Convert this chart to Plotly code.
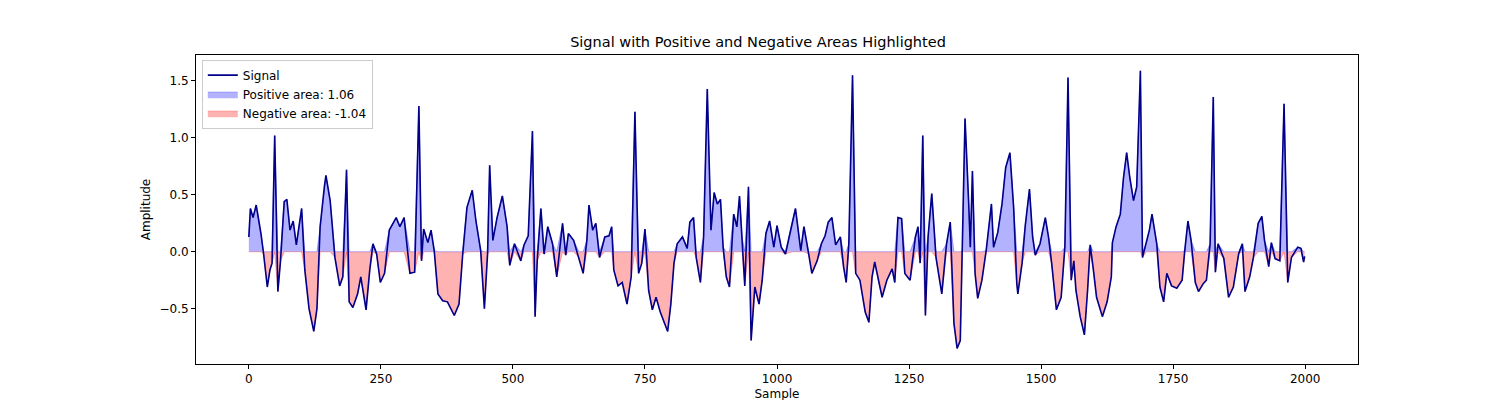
import plotly.graph_objects as go

samples = [0, 3, 8, 14, 19, 23, 28, 35, 40, 44, 49, 55, 60, 67, 72, 78, 84, 90, 100, 106, 114, 123, 129, 135,
           143, 146, 154, 163, 172, 178, 185, 190, 197, 206, 212, 222, 229, 235, 242, 249, 257, 266, 279, 286,
           294, 305, 314, 322, 327, 331, 339, 345, 351, 358, 367, 376, 389, 398, 405, 413, 423, 430, 439, 446,
           452, 456, 462, 470, 480, 489, 494, 503, 515,
           521, 529, 537, 542, 546, 553, 559, 566, 575, 583, 594, 600, 605, 615, 625, 633, 640, 644, 651, 657,
           664, 674, 682, 687, 691, 699, 707, 716, 724, 731, 738, 744, 750, 757, 764, 771, 779, 793, 799, 805,
           811, 821, 830, 835, 842, 847, 855, 861, 868, 875, 881, 887, 893, 898, 904, 910, 918, 924, 929, 934,
           939, 946, 951, 958, 966, 972, 979, 986, 994, 1000, 1008, 1016,
           1029, 1035, 1045, 1051, 1060, 1066, 1076, 1084, 1091, 1097, 1104, 1111, 1120, 1126, 1131, 1136, 1143,
           1149, 1157, 1167, 1174, 1180, 1185, 1193, 1199, 1208, 1218, 1223, 1229, 1236, 1242, 1252, 1262, 1267,
           1271, 1276, 1281, 1286, 1293, 1301, 1312, 1321, 1328, 1335, 1341, 1347, 1351, 1356, 1363, 1366, 1370,
           1375, 1380, 1388, 1396, 1401, 1406, 1410, 1418, 1426, 1433, 1441, 1448, 1454, 1456, 1464, 1470, 1478,
           1484, 1489, 1498, 1508, 1514, 1520, 1529,
           1538, 1545, 1551, 1557, 1562, 1566, 1574, 1582, 1588, 1593, 1599, 1605, 1616, 1625, 1633, 1635, 1642,
           1650, 1656, 1662, 1668, 1675, 1681, 1688, 1692, 1699, 1705, 1710, 1719, 1725, 1732, 1738, 1747, 1757,
           1767, 1772, 1778, 1784, 1792, 1798, 1807, 1813, 1820, 1826, 1830, 1835, 1846, 1855, 1864, 1874, 1881,
           1886, 1895, 1902, 1911, 1918, 1923, 1931, 1936, 1943, 1952, 1960, 1967, 1974, 1986, 1992, 1997, 1999]

signal = [0.13, 0.38, 0.30, 0.41, 0.27, 0.16, -0.02, -0.31, -0.16, -0.10, 1.02, -0.35, -0.08, 0.44, 0.46, 0.19,
          0.27, 0.06, 0.38, -0.16, -0.50, -0.70, -0.50, 0.22,
          0.57, 0.67, 0.45, -0.05, -0.30, -0.22, 0.72, -0.44, -0.49, -0.37, -0.22, -0.51, -0.16, 0.07, -0.02,
          -0.27, -0.19, 0.19, 0.30, 0.22,
          0.30, -0.19, -0.18, 1.28, -0.08, 0.20, 0.08, 0.19, 0.01, -0.37, -0.43, -0.44, -0.56, -0.46, -0.02,
          0.39, 0.54, 0.27, 0.01, -0.50,
          -0.02, 0.76, 0.10, 0.30, 0.49, 0.22, -0.12, 0.07, -0.08,
          0.06, 0.14, 1.06, -0.57, -0.08, 0.38, -0.02, 0.22, 0.07, -0.22, 0.25, -0.03, 0.16, 0.10, -0.05, -0.19,
          0.10, 0.41, 0.19, 0.25,
          -0.05, 0.13, 0.14, 0.22, -0.16, -0.30, -0.27, -0.46, -0.22, 1.23, -0.19, -0.10, 0.20, -0.34, -0.51,
          -0.40, -0.53, -0.70, -0.46, -0.10,
          0.07, 0.13, 0.03, 0.26, 0.30, -0.05, -0.27, 0.13, 1.43, 0.19, 0.52, 0.42, 0.46, 0.04, -0.22, -0.31,
          0.33, 0.22, 0.49, 0.13,
          -0.30, 0.57, -0.78, -0.31, -0.46, -0.25, 0.16, 0.27, 0.04, 0.23, 0.04, -0.02,
          0.27, 0.38, 0.01, 0.22, -0.02, -0.19, -0.08, 0.07, 0.14, 0.26, 0.30, 0.06, 0.13, -0.13, -0.27, 0.07,
          1.55,
          -0.19, -0.25, -0.53, -0.62, -0.22, -0.09, -0.28, -0.40, -0.25, -0.15, -0.27, 0.30, 0.29, -0.19, -0.25,
          0.13, 0.22,
          -0.10, 1.02, -0.56, 0.13, 0.51, -0.05, -0.37, 0.07, 0.26, -0.63, -0.85, -0.78, 0.01, 1.17, 0.42, 0.04,
          0.71,
          -0.19, -0.41, -0.25, 0.01, 0.20, 0.42, 0.04, 0.17, 0.42, 0.74, 0.87, 0.39, -0.28, -0.37, -0.10, 0.23,
          0.55,
          0.13, -0.03, 0.07, 0.30, 0.13, -0.10, -0.51,
          -0.40, 0.04, 1.53, -0.25, -0.08, -0.34, -0.57, -0.73, -0.34, 0.06, -0.16, -0.40, -0.57, -0.44, -0.22,
          0.08, 0.22,
          0.33, 0.65, 0.87, 0.65, 0.45, 0.57, 1.59, -0.05, 0.07, 0.19, 0.33, 0.07, -0.31, -0.44, -0.19, -0.30,
          -0.32,
          -0.25, 0.01, 0.27, 0.10, -0.27, -0.35, -0.28, -0.25, 0.07, 1.36, -0.18, 0.07, -0.06, -0.40, -0.31,
          -0.02, 0.07,
          -0.35, -0.22, -0.05, 0.25, 0.31, 0.10, -0.13, 0.08, -0.06, -0.08, 1.30, -0.27, -0.05, 0.04, 0.03,
          -0.09, -0.04]

pos_label = "Positive area: 1.06"
neg_label = "Negative area: -1.04"

pos = [v if v > 0 else 0 for v in signal]
neg = [v if v < 0 else 0 for v in signal]

fig = go.Figure()
fig.add_trace(go.Scatter(x=samples, y=pos, mode="lines", fill="tozeroy", name=pos_label, legendrank=2,
                         line=dict(color="rgba(0,0,255,0.3)", width=1),
                         fillcolor="rgba(0,0,255,0.3)"))
fig.add_trace(go.Scatter(x=samples, y=neg, mode="lines", fill="tozeroy", name=neg_label, legendrank=3,
                         line=dict(color="rgba(255,0,0,0.3)", width=1),
                         fillcolor="rgba(255,0,0,0.3)"))
fig.add_trace(go.Scatter(x=samples, y=signal, mode="lines", name="Signal", legendrank=1,
                         line=dict(color="#00008b", width=1.6)))

axis_style = dict(showgrid=False, zeroline=False, showline=True, linecolor="black", mirror=True,
                  ticks="outside", ticklen=4, tickcolor="black", tickfont=dict(size=12, color="black"),
                  automargin=False)

fig.update_layout(
    width=1500, height=400,
    margin=dict(l=188, r=150, t=47, b=44, autoexpand=False),
    paper_bgcolor="white", plot_bgcolor="white",
    font=dict(family="DejaVu Sans", color="black"),
    title=dict(text="Signal with Positive and Negative Areas Highlighted", x=0.5, xanchor="center",
               y=0.915, yanchor="middle", font=dict(size=14.5)),
    legend=dict(x=0.005, y=0.985, xanchor="left", yanchor="top", traceorder="normal",
                bordercolor="#cccccc", borderwidth=1, bgcolor="rgba(255,255,255,0.8)",
                font=dict(size=12)),
    xaxis=dict(range=[-100, 2100], tickvals=[0, 250, 500, 750, 1000, 1250, 1500, 1750, 2000],
               title=dict(text="Sample", font=dict(size=12), standoff=4), **axis_style),
    yaxis=dict(range=[-0.986, 1.728], tickvals=[-0.5, 0, 0.5, 1.0, 1.5],
               ticktext=["−0.5", "0.0", "0.5", "1.0", "1.5"],
               title=dict(text="Amplitude", font=dict(size=12), standoff=6), **axis_style),
)

fig.write_html("out.html")
